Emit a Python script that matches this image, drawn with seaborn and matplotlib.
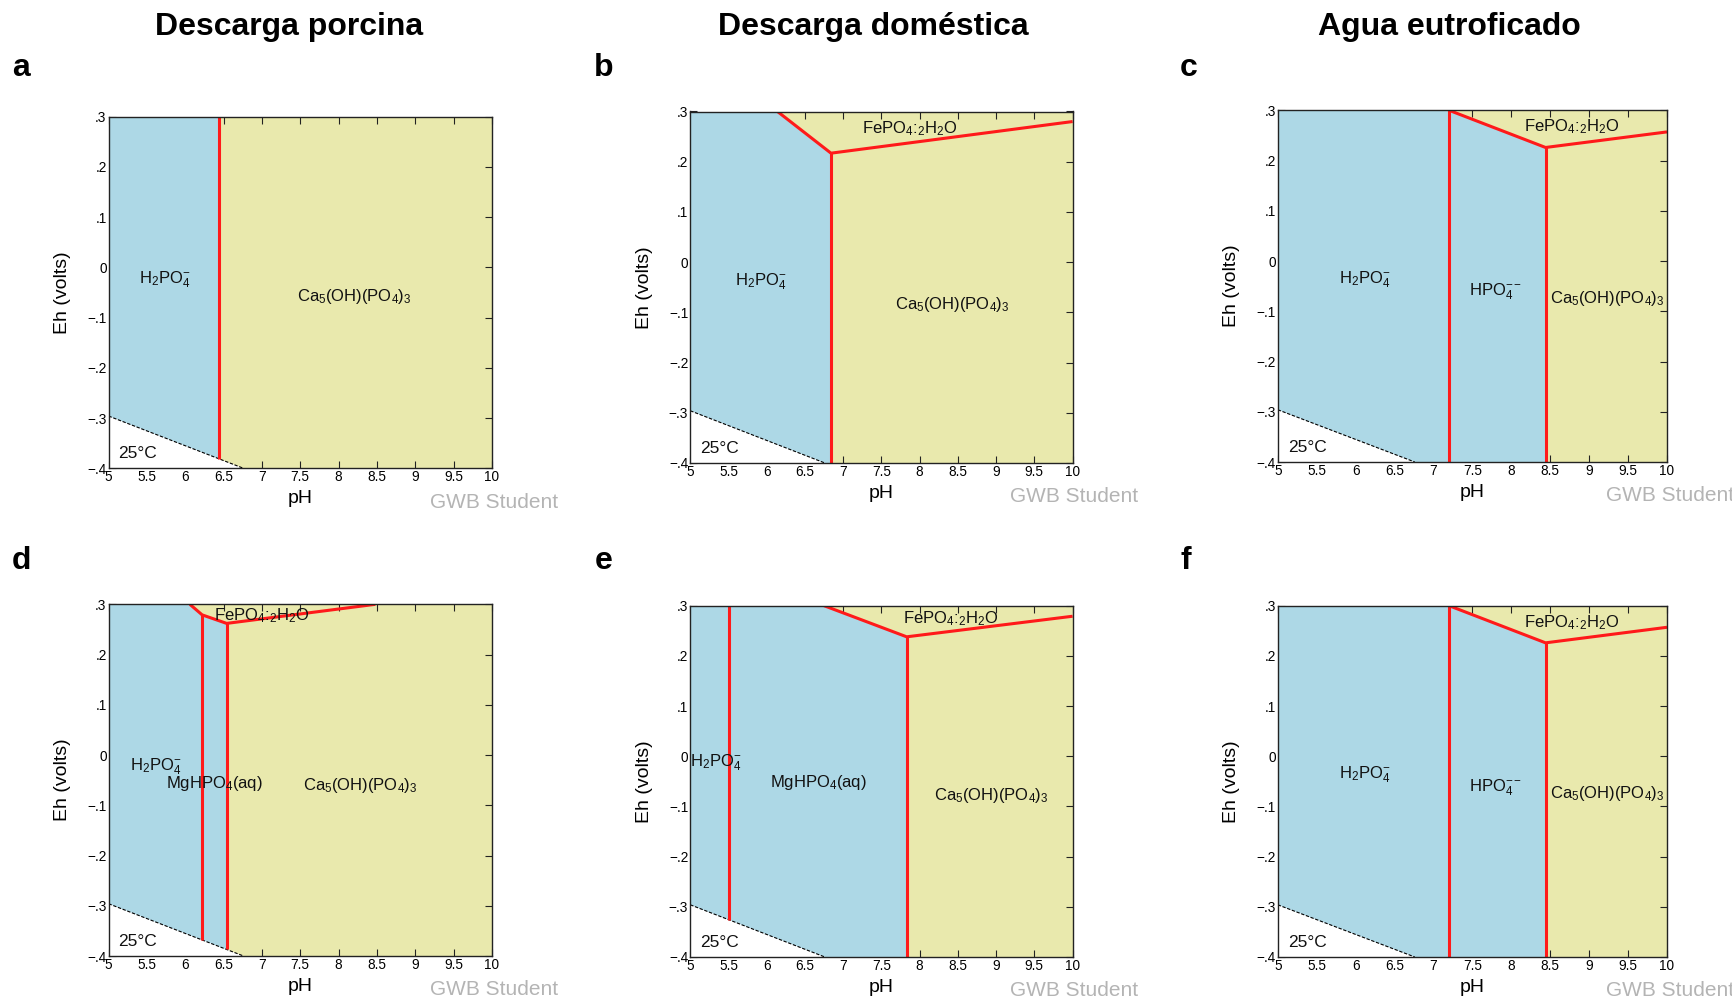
import numpy as np
import pandas as pd
import matplotlib
matplotlib.use("Agg")
import matplotlib.pyplot as plt
import seaborn as sns

sns.set_style("ticks")
plt.rcParams['font.family'] = ['Liberation Sans', 'DejaVu Sans']
plt.rcParams['mathtext.fontset'] = 'custom'
plt.rcParams['mathtext.rm'] = 'Liberation Sans'
plt.rcParams['mathtext.it'] = 'Liberation Sans'
plt.rcParams['mathtext.bf'] = 'Liberation Sans:bold'
plt.rcParams['text.color'] = 'black'
plt.rcParams['axes.labelcolor'] = 'black'
plt.rcParams['xtick.color'] = 'black'
plt.rcParams['ytick.color'] = 'black'

# ---------------- data ----------------
COLUMN_TITLES = ["Descarga porcina", "Descarga doméstica", "Agua eutroficado"]
PANEL_LETTERS = ["a", "b", "c", "d", "e", "f"]
PH_TICKS = [5, 5.5, 6, 6.5, 7, 7.5, 8, 8.5, 9, 9.5, 10]
PH_TICK_LABELS = ["5", "5.5", "6", "6.5", "7", "7.5", "8", "8.5", "9", "9.5", "10"]
EH_TICKS = [-0.4, -0.3, -0.2, -0.1, 0.0, 0.1, 0.2, 0.3]
EH_TICK_LABELS = ["\u2212.4", "\u2212.3", "\u2212.2", "\u2212.1", "0", ".1", ".2", ".3"]

# lower water stability limit (dashed)
WATER_PH = [5.0, 6.76]
WATER_EH = [-0.296, -0.40]

H2PO4 = r'H$_2$PO$_4^{-}$'
HPO4 = r'HPO$_4^{--}$'
CAAP = r'Ca$_5$(OH)(PO$_4$)$_3$'
FEPO4 = r'FePO$_4$:$_2$H$_2$O'
MGHPO4 = r'MgHPO$_4$(aq)'

# panel a
a_lines_ph = [[6.44, 6.44]]
a_lines_eh = [[0.30, -0.381]]
a_front_ph = [6.44, 6.44]
a_front_eh = [0.30, -0.40]
a_labels = [H2PO4, CAAP]
a_label_ph = [5.73, 8.21]
a_label_eh = [-0.025, -0.058]

# panel b
b_lines_ph = [[6.14, 6.84, 10.0], [6.84, 6.84]]
b_lines_eh = [[0.30, 0.217, 0.280], [0.217, -0.40]]
b_front_ph = [6.14, 6.84, 6.84]
b_front_eh = [0.30, 0.217, -0.40]
b_labels = [FEPO4, H2PO4, CAAP]
b_label_ph = [7.87, 5.92, 8.43]
b_label_eh = [0.265, -0.040, -0.085]

# panel c
c_lines_ph = [[7.20, 7.20], [7.20, 8.44, 10.0], [8.44, 8.44]]
c_lines_eh = [[0.30, -0.40], [0.30, 0.226, 0.257], [0.226, -0.40]]
c_front_ph = [7.20, 8.44, 8.44]
c_front_eh = [0.30, 0.226, -0.40]
c_labels = [FEPO4, H2PO4, HPO4, CAAP]
c_label_ph = [8.77, 6.12, 7.80, 9.23]
c_label_eh = [0.267, -0.038, -0.062, -0.075]

# panel d
d_lines_ph = [[6.06, 6.22, 6.54, 8.48], [6.22, 6.22], [6.54, 6.54]]
d_lines_eh = [[0.30, 0.279, 0.262, 0.30], [0.279, -0.368], [0.262, -0.387]]
d_front_ph = [6.06, 6.22, 6.54, 6.54]
d_front_eh = [0.30, 0.279, 0.262, -0.40]
d_labels = [FEPO4, H2PO4, MGHPO4, CAAP]
d_label_ph = [7.00, 5.62, 6.38, 8.28]
d_label_eh = [0.277, -0.023, -0.056, -0.060]

# panel e
e_lines_ph = [[5.50, 5.50], [6.75, 7.83, 10.0], [7.83, 7.83]]
e_lines_eh = [[0.30, -0.326], [0.30, 0.238, 0.279], [0.238, -0.40]]
e_front_ph = [6.75, 7.83, 7.83]
e_front_eh = [0.30, 0.238, -0.40]
e_labels = [FEPO4, H2PO4, MGHPO4, CAAP]
e_label_ph = [8.40, 5.33, 6.67, 8.93]
e_label_eh = [0.274, -0.013, -0.053, -0.079]

# panel f
f_lines_ph = [[7.20, 7.20], [7.20, 8.44, 10.0], [8.44, 8.44]]
f_lines_eh = [[0.30, -0.40], [0.30, 0.226, 0.257], [0.226, -0.40]]
f_front_ph = [7.20, 8.44, 8.44]
f_front_eh = [0.30, 0.226, -0.40]
f_labels = [FEPO4, H2PO4, HPO4, CAAP]
f_label_ph = [8.77, 6.12, 7.80, 9.23]
f_label_eh = [0.267, -0.037, -0.062, -0.075]

PANELS = [
    (a_lines_ph, a_lines_eh, a_front_ph, a_front_eh, a_labels, a_label_ph, a_label_eh),
    (b_lines_ph, b_lines_eh, b_front_ph, b_front_eh, b_labels, b_label_ph, b_label_eh),
    (c_lines_ph, c_lines_eh, c_front_ph, c_front_eh, c_labels, c_label_ph, c_label_eh),
    (d_lines_ph, d_lines_eh, d_front_ph, d_front_eh, d_labels, d_label_ph, d_label_eh),
    (e_lines_ph, e_lines_eh, e_front_ph, e_front_eh, e_labels, e_label_ph, e_label_eh),
    (f_lines_ph, f_lines_eh, f_front_ph, f_front_eh, f_labels, f_label_ph, f_label_eh),
]

# ---------------- style ----------------
BLUE = "#ADD8E6"
YELLOW = "#E9E9AD"
RED = "#FF1A1A"
W, H = 1732, 999

# axes boxes in pixels: left, top, right, bottom
BOXES = [
    (108.6, 116.7, 491.9, 468.3),
    (690.3, 111.5, 1072.6, 463.0),
    (1277.8, 110.3, 1667.0, 462.0),
    (108.6, 604.3, 491.9, 956.0),
    (690.3, 605.7, 1072.6, 957.0),
    (1277.8, 605.7, 1667.0, 957.0),
]
LETTER_POS = [(21, 68), (604, 68), (1189, 68), (21, 561), (604, 561), (1186, 561)]
TITLE_X = [289, 873, 1449]

fig = plt.figure(figsize=(W / 100, H / 100), dpi=100)
fig.patch.set_facecolor("white")

XMIN, XMAX, YMIN, YMAX = 5.0, 10.0, -0.4, 0.3

for i, (box, panel) in enumerate(zip(BOXES, PANELS)):
    l, t, r, b = box
    ax = fig.add_axes([l / W, 1 - b / H, (r - l) / W, (b - t) / H])
    lines_ph, lines_eh, front_ph, front_eh, labels, lab_ph, lab_eh = panel

    # regions
    ax.fill([XMIN, XMAX, XMAX, XMIN], [YMIN, YMIN, YMAX, YMAX], color=YELLOW, lw=0, zorder=0.5)
    ax.fill([XMIN] + front_ph + [XMIN], [YMAX] + front_eh + [YMIN], color=BLUE, lw=0, zorder=0.6)
    ax.fill(WATER_PH + [XMIN], WATER_EH + [YMIN], color="white", lw=0, zorder=0.7)

    # water line
    sns.lineplot(x=WATER_PH, y=WATER_EH, ax=ax, color="black", lw=0.8,
                 linestyle=(0, (3, 1.5)), sort=False, estimator=None, zorder=1)

    # boundaries
    for xs, ys in zip(lines_ph, lines_eh):
        sns.lineplot(x=xs, y=ys, ax=ax, color=RED, lw=2.2, sort=False,
                     estimator=None, zorder=2, solid_capstyle="butt")

    for txt, x, y in zip(labels, lab_ph, lab_eh):
        ax.text(x, y, txt, ha="center", va="center", fontsize=12, color="#111111", zorder=3)

    ax.text(5.38, -0.371, "25°C", ha="center", va="center", fontsize=12.5, color="#111111", zorder=3)

    ax.set_xlim(XMIN, XMAX)
    ax.set_ylim(YMIN, YMAX)
    ax.set_xticks(PH_TICKS)
    ax.set_xticklabels(PH_TICK_LABELS)
    ax.set_yticks(EH_TICKS)
    ax.set_yticklabels(EH_TICK_LABELS)
    ax.tick_params(direction="in", top=True, right=True, length=5, width=0.8,
                   labelsize=9.8, pad=1.5, colors="#222222", labelcolor="black")
    for s in ax.spines.values():
        s.set_linewidth(1.0)
        s.set_color("#222222")
        s.set_visible(True)
    ax.set_xlabel("pH", fontsize=14)
    ax.set_ylabel("Eh (volts)", fontsize=14)
    ax.xaxis.set_label_coords(0.5, -0.062)
    ax.yaxis.set_label_coords(-0.097, 0.5)
    ax.text(1.172, -0.096, "GWB Student", transform=ax.transAxes, ha="right",
            va="center", fontsize=15, color="#B4B4B4")

    lx, ly = LETTER_POS[i]
    fig.text(lx / W, 1 - ly / H, PANEL_LETTERS[i], ha="center", va="center",
             fontsize=23, fontweight="bold")

for tx, title in zip(TITLE_X, COLUMN_TITLES):
    fig.text(tx / W, 1 - 26.5 / H, title, ha="center", va="center",
             fontsize=23, fontweight="bold")

fig.savefig("out.png", dpi=100, facecolor="white")
